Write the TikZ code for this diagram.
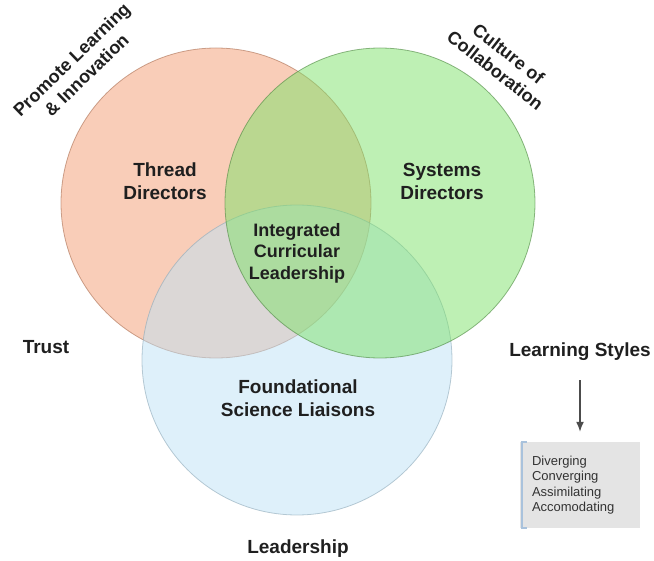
\documentclass[tikz,border=0pt]{standalone}
\usepackage{fontspec}
\setmainfont{Liberation Sans}
\usetikzlibrary{arrows.meta}

\definecolor{threadred}{HTML}{F39C72}
\definecolor{systemsgreen}{HTML}{7DE169}
\definecolor{sciblue}{HTML}{BDE1F5}
\definecolor{kolbgray}{HTML}{E4E4E4}
\definecolor{kolbedge}{HTML}{A9C2DC}

\begin{document}
\begin{tikzpicture}
      [
        x=1pt, y=-1pt,
        venn/.style={circle, minimum size=310pt, inner sep=0pt, fill opacity=0.5, draw opacity=0.6, line width=0.8pt},
        label/.style={font=\bfseries\fontsize{19}{23}\selectfont, align=center, text=black!88},
        core/.style={label, font=\bfseries\fontsize{18}{21.5}\selectfont},
        small/.style={font=\fontsize{13}{15.5}\selectfont, align=left, text=black!80}
      ]
      \useasboundingbox (0,0) rectangle (654,561);
      % circles
      \node [venn, fill=threadred, draw=threadred!70!black] (thread) at (216,203) {};
      \node [venn, fill=sciblue, draw=sciblue!75!black] (science) at (297,360) {};
      \node [venn, fill=systemsgreen, draw=systemsgreen!60!black] (systems) at (380,203) {};
      % circle labels
      \node [label] (threadlbl) at (165,181) {Thread\\Directors};
      \node [label] (systemslbl) at (442,181) {Systems\\Directors};
      \node [core] (corelbl) at (297,253) {Integrated\\Curricular\\Leadership};
      \node [label] (sciencelbl) at (298,398) {Foundational\\Science Liaisons};
      % values round the diagram
      \node [core, rotate=44] (promote) at (79,67) {Promote Learning\\\& Innovation};
      \node [core, rotate=-38] (culture) at (502,62) {Culture of\\Collaboration};
      \node [label] (trust) at (46,347) {Trust};
      \node [label] (lead) at (298,549) {Leadership};
      \node [label] (styles) at (580,352) {Learning Styles};
      % learning styles box
      \node [small, fill=kolbgray, inner xsep=12pt, text width=96pt,
             minimum height=86pt] (kolb) at (580,485)
        {Diverging\\Converging\\Assimilating\\Accomodating};
      \draw [kolbedge, line width=1.5pt]
      ([xshift=7pt]kolb.north west) -| ([xshift=2pt]kolb.south west) -- ([xshift=7pt]kolb.south west);
      % arrow
      \draw [line width=1.5pt, black!70, -{Latex[length=10pt,width=8pt]}, shorten <=16pt, shorten >=10pt]
      (styles) -- (kolb);
    \end{tikzpicture}
\end{document}
